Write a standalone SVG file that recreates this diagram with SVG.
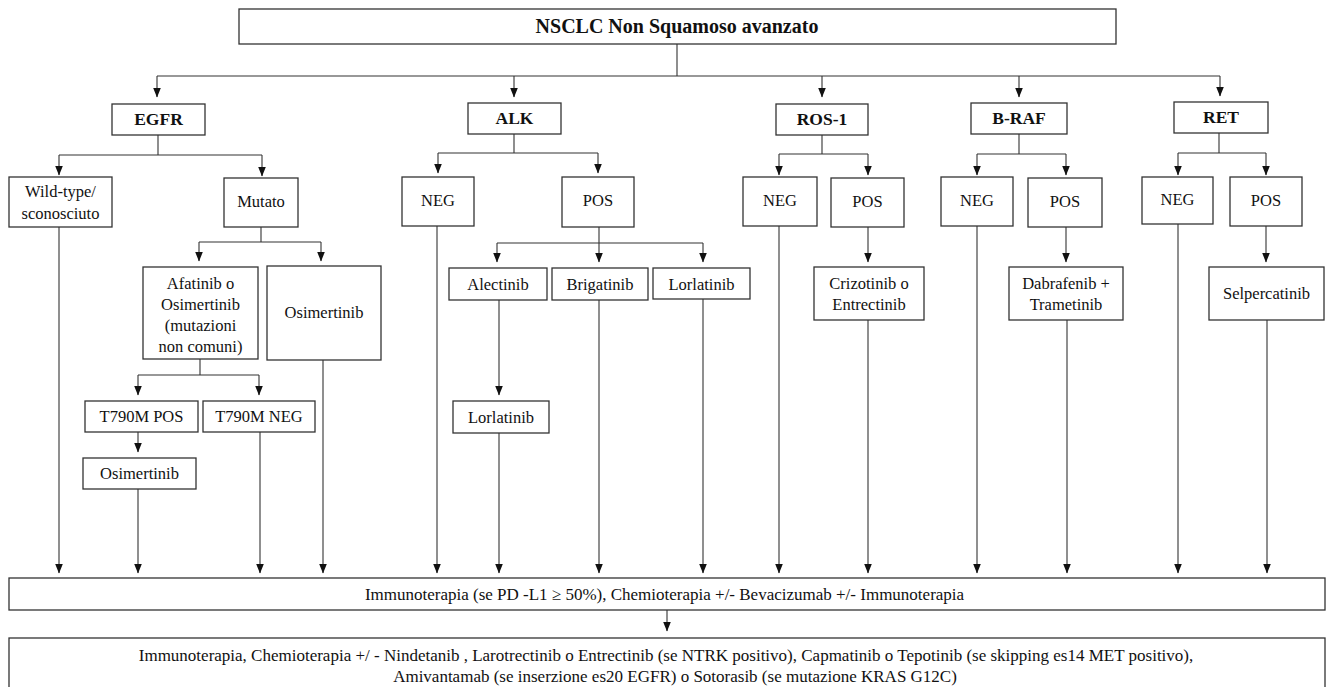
<svg xmlns="http://www.w3.org/2000/svg" width="1331" height="687" viewBox="0 0 1331 687">
<style>
.box{fill:#fff;stroke:#333;stroke-width:1.3}
.t{font-family:"Liberation Serif","Times New Roman",serif;font-size:16.5px;fill:#111;text-anchor:middle}
.s{font-size:17px}
.b{font-weight:bold;font-size:17.5px}
.ln{fill:none;stroke:#333;stroke-width:1.1}
.ar{fill:none;stroke:#333;stroke-width:1.1;marker-end:url(#ah)}
</style>
<defs>
<marker id="ah" markerUnits="userSpaceOnUse" markerWidth="10" markerHeight="8" viewBox="0 0 10 8" refX="9.5" refY="4" orient="auto">
<path d="M0,0 L10,4 L0,8 z" fill="#111"/>
</marker>
</defs>
<rect width="1331" height="687" fill="#fff"/>
<g id="connectors">
<path class="ln" d="M677,44 V76 M157,76 H1220"/>
<path class="ar" d="M157,76 V97"/>
<path class="ar" d="M514,76 V97"/>
<path class="ar" d="M822,76 V97"/>
<path class="ar" d="M1019,76 V97"/>
<path class="ar" d="M1220,76 V96"/>
<path class="ln" d="M158,135 V155 M59,155 H262"/>
<path class="ar" d="M59,155 V175"/>
<path class="ar" d="M262,155 V176"/>
<path class="ln" d="M261,227 V242 M199,242 H321"/>
<path class="ar" d="M199,242 V261"/>
<path class="ar" d="M321,242 V261"/>
<path class="ln" d="M200,359 V375 M138,375 H259"/>
<path class="ar" d="M138,375 V395"/>
<path class="ar" d="M259,375 V395"/>
<path class="ar" d="M138,432 V452"/>
<path class="ar" d="M59,227 V573"/>
<path class="ar" d="M138,489 V573"/>
<path class="ar" d="M260,432 V573"/>
<path class="ar" d="M323,360 V573"/>
<path class="ln" d="M514,134 V153 M438,153 H598"/>
<path class="ar" d="M438,153 V173"/>
<path class="ar" d="M598,153 V173"/>
<path class="ln" d="M599,227 V243 M497,243 H703"/>
<path class="ar" d="M497,243 V262"/>
<path class="ar" d="M599,243 V262"/>
<path class="ar" d="M703,243 V262"/>
<path class="ar" d="M499,300 V395"/>
<path class="ar" d="M437,226 V573"/>
<path class="ar" d="M499,433 V573"/>
<path class="ar" d="M599,300 V573"/>
<path class="ar" d="M703,299 V573"/>
<path class="ln" d="M822,135 V154 M779,154 H868"/>
<path class="ar" d="M779,154 V175"/>
<path class="ar" d="M868,154 V175"/>
<path class="ar" d="M868,227 V262"/>
<path class="ar" d="M779,226 V573"/>
<path class="ar" d="M868,320 V573"/>
<path class="ln" d="M1019,134 V154 M977,154 H1066"/>
<path class="ar" d="M977,154 V175"/>
<path class="ar" d="M1066,154 V175"/>
<path class="ar" d="M1066,227 V262"/>
<path class="ar" d="M977,226 V573"/>
<path class="ar" d="M1067,320 V573"/>
<path class="ln" d="M1219,133 V153 M1178,153 H1266"/>
<path class="ar" d="M1178,153 V175"/>
<path class="ar" d="M1266,153 V175"/>
<path class="ar" d="M1266,226 V262"/>
<path class="ar" d="M1178,224 V573"/>
<path class="ar" d="M1267,320 V573"/>
<path class="ar" d="M667,610 V631"/>
</g>
<g id="n-title"><rect class="box" x="239" y="9" width="877" height="35"/><text class="t b" x="677" y="33" style="font-size:20px">NSCLC Non Squamoso avanzato</text></g>
<g id="n-egfr"><rect class="box" x="112" y="104" width="93" height="31"/><text class="t b" x="158.5" y="125">EGFR</text></g>
<g id="n-alk"><rect class="box" x="468" y="103" width="93" height="31"/><text class="t b" x="514.5" y="124">ALK</text></g>
<g id="n-ros1"><rect class="box" x="776" y="104" width="92" height="31"/><text class="t b" x="822" y="125">ROS-1</text></g>
<g id="n-braf"><rect class="box" x="971" y="103" width="96" height="31"/><text class="t b" x="1019" y="124">B-RAF</text></g>
<g id="n-ret"><rect class="box" x="1174" y="102" width="94" height="31"/><text class="t b" x="1221" y="123">RET</text></g>
<g id="n-wild"><rect class="box" x="9" y="177" width="103" height="50"/><text class="t" x="60.5" y="197">Wild-type/</text><text class="t" x="60.5" y="219">sconosciuto</text></g>
<g id="n-mutato"><rect class="box" x="224" y="178" width="74" height="49"/><text class="t" x="261" y="207">Mutato</text></g>
<g id="n-afatinib"><rect class="box" x="143" y="267" width="115" height="92"/><text class="t" x="200.5" y="289">Afatinib o</text><text class="t" x="200.5" y="310">Osimertinib</text><text class="t" x="200.5" y="331">(mutazioni</text><text class="t" x="200.5" y="352">non comuni)</text></g>
<g id="n-osim1"><rect class="box" x="267" y="266" width="114" height="94"/><text class="t" x="324" y="318">Osimertinib</text></g>
<g id="n-t790pos"><rect class="box" x="85" y="401" width="113" height="31"/><text class="t" x="141.5" y="422">T790M POS</text></g>
<g id="n-t790neg"><rect class="box" x="203" y="401" width="112" height="31"/><text class="t" x="259" y="422">T790M NEG</text></g>
<g id="n-osim2"><rect class="box" x="83" y="458" width="113" height="31"/><text class="t" x="139.5" y="479">Osimertinib</text></g>
<g id="n-alk-neg"><rect class="box" x="402" y="177" width="72" height="49"/><text class="t" x="438" y="206">NEG</text></g>
<g id="n-alk-pos"><rect class="box" x="562" y="177" width="72" height="50"/><text class="t" x="598" y="206">POS</text></g>
<g id="n-alectinib"><rect class="box" x="449" y="268" width="98" height="32"/><text class="t" x="498" y="290">Alectinib</text></g>
<g id="n-brigatinib"><rect class="box" x="552" y="268" width="96" height="32"/><text class="t" x="600" y="290">Brigatinib</text></g>
<g id="n-lorlatinib1"><rect class="box" x="653" y="268" width="97" height="31"/><text class="t" x="701.5" y="290">Lorlatinib</text></g>
<g id="n-lorlatinib2"><rect class="box" x="453" y="401" width="96" height="32"/><text class="t" x="501" y="423">Lorlatinib</text></g>
<g id="n-ros-neg"><rect class="box" x="743" y="177" width="74" height="49"/><text class="t" x="780" y="206">NEG</text></g>
<g id="n-ros-pos"><rect class="box" x="831" y="178" width="73" height="49"/><text class="t" x="867.5" y="207">POS</text></g>
<g id="n-crizotinib"><rect class="box" x="814" y="267" width="110" height="53"/><text class="t" x="869" y="289">Crizotinib o</text><text class="t" x="869" y="310">Entrectinib</text></g>
<g id="n-braf-neg"><rect class="box" x="941" y="177" width="72" height="49"/><text class="t" x="977" y="206">NEG</text></g>
<g id="n-braf-pos"><rect class="box" x="1028" y="178" width="74" height="49"/><text class="t" x="1065" y="207">POS</text></g>
<g id="n-dabrafenib"><rect class="box" x="1009" y="267" width="114" height="53"/><text class="t" x="1066" y="289">Dabrafenib +</text><text class="t" x="1066" y="310">Trametinib</text></g>
<g id="n-ret-neg"><rect class="box" x="1142" y="177" width="71" height="47"/><text class="t" x="1177.5" y="205">NEG</text></g>
<g id="n-ret-pos"><rect class="box" x="1230" y="177" width="72" height="49"/><text class="t" x="1266" y="206">POS</text></g>
<g id="n-selpercatinib"><rect class="box" x="1209" y="267" width="115" height="53"/><text class="t" x="1266.5" y="299">Selpercatinib</text></g>
<g id="n-first-line"><rect class="box" x="9" y="578" width="1316" height="32"/><text class="t s" x="664.5" y="600">Immunoterapia (se PD -L1 ≥ 50%), Chemioterapia +/- Bevacizumab +/- Immunoterapia</text></g>
<g id="n-second-line"><rect class="box" x="9" y="638" width="1316" height="54"/><text class="t s" x="666" y="661">Immunoterapia, Chemioterapia +/ - Nindetanib , Larotrectinib o Entrectinib (se NTRK positivo), Capmatinib o Tepotinib (se skipping es14 MET positivo),</text><text class="t s" x="675" y="682">Amivantamab (se inserzione es20 EGFR) o Sotorasib (se mutazione KRAS G12C)</text></g>
</svg>
